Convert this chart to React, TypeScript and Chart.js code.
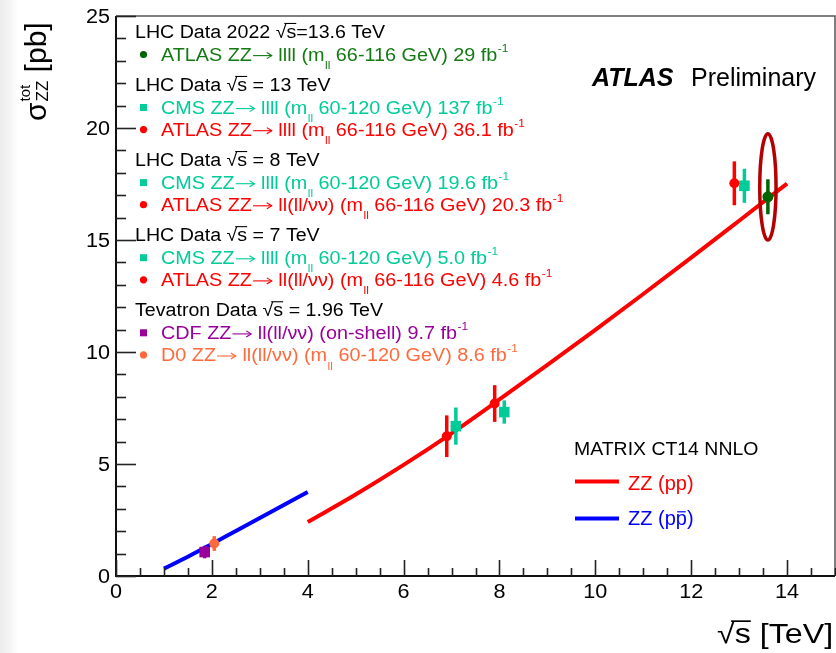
import React, { useEffect, useRef } from 'react';
import { Chart, registerables } from 'chart.js';

Chart.register(...registerables);

// ---------- axis ticks ----------
const xTickValues = [0, 2, 4, 6, 8, 10, 12, 14];
const yTickValues = [0, 5, 10, 15, 20, 25];

// ---------- MATRIX CT14 NNLO predictions ----------
const ppSqrtS = [4, 5, 6, 7, 8, 9, 10, 11, 12, 13, 14];
const ppSigma = [2.41, 3.64, 4.96, 6.37, 7.88, 9.42, 10.99, 12.59, 14.21, 15.86, 17.52];
const ppbarSqrtS = [1, 1.5, 2, 2.5, 3, 3.5, 4];
const ppbarSigma = [0.33, 0.86, 1.43, 2.01, 2.59, 3.17, 3.75];

// ---------- measurements (x shifted for visibility as in the figure) ----------
const atlas2022X = [13.6];
const atlas2022Y = [16.93];
const atlas2022Err = [0.78];

const cmsX = [13.11, 8.1, 7.09];
const cmsY = [17.42, 7.32, 6.69];
const cmsErr = [0.76, 0.52, 0.83];

const atlasX = [12.9, 7.9, 6.9];
const atlasY = [17.53, 7.7, 6.24];
const atlasErr = [0.98, 0.82, 0.93];

const cdfX = [1.85];
const cdfY = [1.07];
const cdfErr = [0.28];

const d0X = [2.05];
const d0Y = [1.45];
const d0Err = [0.33];

// highlight ellipse around the 13.6 TeV point (data units)
const ellipseCenter = [13.6, 17.37];
const ellipseRadii = [0.17, 2.37];

// ---------- colours ----------
const RED = '#ff0000';
const TEAL = '#00cc99';
const GREEN_TXT = '#137a13';
const GREEN_PT = '#006400';
const PURPLE = '#990099';
const ORANGE = '#ff6a3d';
const BLUE = '#0000ff';
const DARKRED = '#b40000';

// ---------- legend text ----------
const legendKinds = ['h', 'c', 'h', 's', 'c', 'h', 's', 'c', 'h', 's', 'c', 'h', 's', 'c'];
const legendColors = ['#000', GREEN_TXT, '#000', TEAL, RED, '#000', TEAL, RED, '#000', TEAL, RED, '#000', PURPLE, ORANGE];
const legendMarkerColors = ['', GREEN_PT, '', TEAL, RED, '', TEAL, RED, '', TEAL, RED, '', PURPLE, ORANGE];
const legendTexts = [
  'LHC Data 2022 #sqrt{s}=13.6 TeV',
  'ATLAS ZZ#arrow{} llll (m_{ll} 66-116 GeV) 29 fb^{-1}',
  'LHC Data #sqrt{s} = 13 TeV',
  'CMS ZZ#arrow{} llll (m_{ll} 60-120 GeV) 137 fb^{-1}',
  'ATLAS ZZ#arrow{} llll (m_{ll} 66-116 GeV) 36.1 fb^{-1}',
  'LHC Data #sqrt{s} = 8 TeV',
  'CMS ZZ#arrow{} llll (m_{ll} 60-120 GeV) 19.6 fb^{-1}',
  'ATLAS ZZ#arrow{} ll(ll/\u03bd\u03bd) (m_{ll} 66-116 GeV) 20.3 fb^{-1}',
  'LHC Data #sqrt{s} = 7 TeV',
  'CMS ZZ#arrow{} llll (m_{ll} 60-120 GeV) 5.0 fb^{-1}',
  'ATLAS ZZ#arrow{} ll(ll/\u03bd\u03bd) (m_{ll} 66-116 GeV) 4.6 fb^{-1}',
  'Tevatron Data #sqrt{s} = 1.96 TeV',
  'CDF ZZ#arrow{} ll(ll/\u03bd\u03bd) (on-shell) 9.7 fb^{-1}',
  'D0 ZZ#arrow{} ll(ll/\u03bd\u03bd) (m_{ll} 60-120 GeV) 8.6 fb^{-1}',
];

const FAMILY = '"Liberation Sans", Arial, Helvetica, sans-serif';

type Tok = { t: string; k: string };

function parseRich(s: string): Tok[] {
  const out: Tok[] = [];
  let buf = '';
  let i = 0;
  while (i < s.length) {
    const rest = s.slice(i);
    const mm = rest.match(/^(#sqrt|#bar|#arrow|_|\^)\{([^}]*)\}/);
    if (mm) {
      if (buf) { out.push({ t: buf, k: 'n' }); buf = ''; }
      out.push({ t: mm[2], k: mm[1] });
      i += mm[0].length;
    } else {
      buf += s[i];
      i++;
    }
  }
  if (buf) out.push({ t: buf, k: 'n' });
  return out;
}

function drawRich(
  ctx: CanvasRenderingContext2D,
  s: string,
  x: number,
  y: number,
  size: number,
  color: string,
  sx = 1,
  style = '',
) {
  const toks = parseRich(s);
  ctx.save();
  ctx.translate(x, y);
  ctx.scale(sx, 1);
  ctx.fillStyle = color;
  ctx.strokeStyle = color;
  ctx.textBaseline = 'alphabetic';
  ctx.textAlign = 'left';
  let cur = 0;
  const f = (sz: number) => `${style}${sz}px ${FAMILY}`;
  for (const tk of toks) {
    if (tk.k === 'n') {
      ctx.font = f(size);
      ctx.fillText(tk.t, cur, 0);
      cur += ctx.measureText(tk.t).width;
    } else if (tk.k === '_') {
      ctx.font = f(size * 0.6);
      ctx.fillText(tk.t, cur + 0.5, size * 0.45);
      cur += ctx.measureText(tk.t).width + 0.5;
    } else if (tk.k === '^') {
      ctx.font = f(size * 0.6);
      ctx.fillText(tk.t, cur + 0.5, -size * 0.5);
      cur += ctx.measureText(tk.t).width + 0.5;
    } else if (tk.k === '#arrow') {
      const len = size * 1.0;
      const ay = -size * 0.3;
      ctx.lineWidth = 1.1;
      ctx.beginPath();
      ctx.moveTo(cur + 1, ay);
      ctx.lineTo(cur + len, ay);
      ctx.stroke();
      ctx.beginPath();
      ctx.moveTo(cur + len - size * 0.25, ay - size * 0.17);
      ctx.lineTo(cur + len, ay);
      ctx.lineTo(cur + len - size * 0.25, ay + size * 0.17);
      ctx.stroke();
      cur += len + 1;
    } else if (tk.k === '#sqrt') {
      ctx.font = f(size);
      const wr = ctx.measureText('\u221a').width;
      ctx.fillText('\u221a', cur, 0);
      const wt = ctx.measureText(tk.t).width;
      ctx.fillText(tk.t, cur + wr, 0);
      ctx.lineWidth = Math.max(1, size * 0.06);
      ctx.beginPath();
      ctx.moveTo(cur + wr * 0.8, -size * 0.78);
      ctx.lineTo(cur + wr + wt, -size * 0.78);
      ctx.stroke();
      cur += wr + wt;
    } else if (tk.k === '#bar') {
      ctx.font = f(size);
      const wt = ctx.measureText(tk.t).width;
      ctx.fillText(tk.t, cur, 0);
      ctx.lineWidth = Math.max(1, size * 0.06);
      ctx.beginPath();
      ctx.moveTo(cur + wt * 0.12, -size * 0.66);
      ctx.lineTo(cur + wt * 0.9, -size * 0.66);
      ctx.stroke();
      cur += wt;
    }
  }
  ctx.restore();
  return cur * sx;
}

const overlayPlugin = {
  id: 'overlay',
  beforeDatasetDraw(chart: any, args: any) {
    const ds = chart.data.datasets[args.index];
    if (!ds.errors) return;
    const ctx: CanvasRenderingContext2D = chart.ctx;
    const xs = chart.scales.x;
    const ys = chart.scales.y;
    ctx.save();
    ctx.strokeStyle = ds.barColor;
    ctx.lineWidth = 3.5;
    ds.data.forEach((p: any, i: number) => {
      const e = ds.errors[i];
      const px = xs.getPixelForValue(p.x);
      ctx.beginPath();
      ctx.moveTo(px, ys.getPixelForValue(p.y - e));
      ctx.lineTo(px, ys.getPixelForValue(p.y + e));
      ctx.stroke();
    });
    ctx.restore();
  },
  afterDraw(chart: any) {
    const ctx: CanvasRenderingContext2D = chart.ctx;
    const xs = chart.scales.x;
    const ys = chart.scales.y;
    const { left, right, top, bottom } = chart.chartArea;

    // highlight ellipse
    ctx.save();
    const ecx = xs.getPixelForValue(ellipseCenter[0]);
    const ecy = ys.getPixelForValue(ellipseCenter[1]);
    const erx = Math.abs(xs.getPixelForValue(ellipseCenter[0] + ellipseRadii[0]) - ecx);
    const ery = Math.abs(ys.getPixelForValue(ellipseCenter[1] + ellipseRadii[1]) - ecy);
    ctx.strokeStyle = DARKRED;
    ctx.lineWidth = 3.5;
    ctx.beginPath();
    ctx.ellipse(ecx, ecy, erx, ery, 0, 0, Math.PI * 2);
    ctx.stroke();
    ctx.restore();

    // frame
    ctx.save();
    ctx.strokeStyle = '#555';
    ctx.lineWidth = 1.5;
    ctx.beginPath();
    ctx.moveTo(left, top);
    ctx.lineTo(right, top);
    ctx.lineTo(right, bottom);
    ctx.stroke();
    ctx.strokeStyle = '#111';
    ctx.lineWidth = 2;
    ctx.beginPath();
    ctx.moveTo(left, top);
    ctx.lineTo(left, bottom);
    ctx.lineTo(right, bottom);
    ctx.stroke();

    // ticks (inside)
    ctx.lineWidth = 1.6;
    ctx.strokeStyle = '#222';
    for (let v = ys.min; v <= ys.max + 1e-9; v += 1) {
      const py = Math.round(ys.getPixelForValue(v)) + 0.5;
      const len = Math.abs(v % 5) < 1e-9 ? 20 : 10;
      ctx.beginPath();
      ctx.moveTo(left, py);
      ctx.lineTo(left + len, py);
      ctx.stroke();
    }
    for (let v = xs.min; v <= xs.max + 1e-9; v += 0.5) {
      const px = Math.round(xs.getPixelForValue(v)) + 0.5;
      const major = Math.abs(v / 2 - Math.round(v / 2)) < 1e-9;
      const len = major ? 16 : 8;
      ctx.beginPath();
      ctx.moveTo(px, bottom);
      ctx.lineTo(px, bottom - len);
      ctx.stroke();
    }

    // tick labels
    ctx.fillStyle = '#000';
    ctx.font = `20px ${FAMILY}`;
    ctx.textBaseline = 'middle';
    for (const v of yTickValues) {
      const py = ys.getPixelForValue(v);
      ctx.save();
      ctx.translate(left - 6, py + 1);
      ctx.scale(1.08, 1);
      ctx.textAlign = 'right';
      ctx.fillText(String(v), 0, 0);
      ctx.restore();
    }
    for (const v of xTickValues) {
      const px = xs.getPixelForValue(v);
      ctx.save();
      ctx.translate(px, bottom + 16);
      ctx.scale(1.08, 1);
      ctx.textAlign = 'center';
      ctx.fillText(String(v), 0, 0);
      ctx.restore();
    }
    ctx.restore();

    // axis titles
    drawRich(ctx, '#sqrt{s} [TeV]', 717, 643, 28, '#000', 1.15);

    ctx.save();
    ctx.translate(46, 121);
    ctx.rotate(-Math.PI / 2);
    ctx.fillStyle = '#000';
    ctx.textBaseline = 'alphabetic';
    ctx.font = `30px ${FAMILY}`;
    ctx.fillText('\u03c3', 0, 0);
    let cx = ctx.measureText('\u03c3').width + 1;
    ctx.font = `15px ${FAMILY}`;
    ctx.fillText('tot', cx, -16);
    const wTot = ctx.measureText('tot').width;
    ctx.font = `17px ${FAMILY}`;
    ctx.fillText('ZZ', cx, 2);
    const wZZ = ctx.measureText('ZZ').width;
    cx += Math.max(wTot, wZZ);
    ctx.font = `30px ${FAMILY}`;
    ctx.fillText(' [pb]', cx, 0);
    ctx.restore();

    // ATLAS Preliminary
    ctx.save();
    ctx.fillStyle = '#000';
    ctx.textBaseline = 'alphabetic';
    ctx.font = `italic bold 25px ${FAMILY}`;
    ctx.fillText('ATLAS', 592, 86);
    ctx.font = `25px ${FAMILY}`;
    ctx.fillText('Preliminary', 691, 86);
    ctx.restore();

    // theory legend
    drawRich(ctx, 'MATRIX CT14 NNLO', 574, 455, 18, '#000', 1.08);
    ctx.save();
    ctx.lineWidth = 4;
    ctx.strokeStyle = RED;
    ctx.beginPath();
    ctx.moveTo(575, 481.5);
    ctx.lineTo(619, 481.5);
    ctx.stroke();
    ctx.strokeStyle = BLUE;
    ctx.beginPath();
    ctx.moveTo(575, 518.5);
    ctx.lineTo(619, 518.5);
    ctx.stroke();
    ctx.restore();
    drawRich(ctx, 'ZZ (pp)', 628, 490, 20, RED, 1);
    drawRich(ctx, 'ZZ (p#bar{p})', 628, 525, 20, BLUE, 1);

    // data legend
    let y = 37.5;
    for (let i = 0; i < legendTexts.length; i++) {
      if (i > 0) {
        const k = legendKinds[i];
        const pk = legendKinds[i - 1];
        if (k === 'h') y += 29.5;
        else if (pk === 'h') y += 23.5;
        else y += 22.1;
      }
      const kind = legendKinds[i];
      if (kind === 'h') {
        drawRich(ctx, legendTexts[i], 135, y, 18, legendColors[i], 1.09);
      } else {
        ctx.save();
        ctx.fillStyle = legendMarkerColors[i];
        const my = y - 6.5;
        if (kind === 'c') {
          ctx.beginPath();
          ctx.arc(143.5, my, 3.6, 0, Math.PI * 2);
          ctx.fill();
        } else {
          ctx.fillRect(143.5 - 3.5, my - 3.5, 7, 7);
        }
        ctx.restore();
        drawRich(ctx, legendTexts[i], 161, y, 18, legendColors[i], 1.1);
      }
    }
  },
};

function pts(xs: number[], ys: number[]) {
  return xs.map((x, i) => ({ x, y: ys[i] }));
}

export default function App() {
  const canvasRef = useRef<HTMLCanvasElement | null>(null);

  useEffect(() => {
    if (!canvasRef.current) return;
    const chart = new Chart(canvasRef.current, {
      type: 'scatter',
      data: {
        datasets: [
          {
            label: 'ZZ (pp)',
            data: pts(ppSqrtS, ppSigma),
            showLine: true,
            borderColor: RED,
            borderWidth: 4,
            pointRadius: 0,
            cubicInterpolationMode: 'monotone',
            order: 5,
          } as any,
          {
            label: 'ZZ (ppbar)',
            data: pts(ppbarSqrtS, ppbarSigma),
            showLine: true,
            borderColor: BLUE,
            borderWidth: 4,
            pointRadius: 0,
            cubicInterpolationMode: 'monotone',
            order: 5,
          } as any,
          {
            label: 'CDF',
            data: pts(cdfX, cdfY),
            pointStyle: 'rect',
            pointRadius: 7.5,
            backgroundColor: PURPLE,
            borderWidth: 0,
            errors: cdfErr,
            barColor: PURPLE,
            order: 2,
          } as any,
          {
            label: 'D0',
            data: pts(d0X, d0Y),
            pointStyle: 'circle',
            pointRadius: 5,
            backgroundColor: ORANGE,
            borderWidth: 0,
            errors: d0Err,
            barColor: ORANGE,
            order: 2,
          } as any,
          {
            label: 'CMS',
            data: pts(cmsX, cmsY),
            pointStyle: 'rect',
            pointRadius: 7.5,
            backgroundColor: TEAL,
            borderWidth: 0,
            errors: cmsErr,
            barColor: TEAL,
            order: 2,
          } as any,
          {
            label: 'ATLAS',
            data: pts(atlasX, atlasY),
            pointStyle: 'circle',
            pointRadius: 5,
            backgroundColor: RED,
            borderWidth: 0,
            errors: atlasErr,
            barColor: RED,
            order: 1,
          } as any,
          {
            label: 'ATLAS 2022',
            data: pts(atlas2022X, atlas2022Y),
            pointStyle: 'circle',
            pointRadius: 5.5,
            backgroundColor: GREEN_PT,
            borderWidth: 0,
            errors: atlas2022Err,
            barColor: GREEN_PT,
            order: 1,
          } as any,
        ],
      },
      options: {
        animation: false,
        responsive: true,
        maintainAspectRatio: false,
        events: [],
        layout: { autoPadding: false, padding: { top: 16, right: 1, left: 0, bottom: 0 } },
        plugins: {
          legend: { display: false },
          tooltip: { enabled: false },
        },
        scales: {
          x: {
            type: 'linear',
            min: 0,
            max: 15,
            ticks: { display: false },
            grid: { display: false, drawTicks: false },
            border: { display: false },
            afterFit: (s: any) => {
              s.height = 77;
              s.paddingLeft = 0;
              s.paddingRight = 0;
            },
          },
          y: {
            type: 'linear',
            min: 0,
            max: 25,
            ticks: { display: false },
            grid: { display: false, drawTicks: false },
            border: { display: false },
            afterFit: (s: any) => {
              s.width = 116;
              s.paddingTop = 0;
              s.paddingBottom = 0;
            },
          },
        },
      } as any,
      plugins: [overlayPlugin as any],
    });
    return () => chart.destroy();
  }, []);

  return (
    <div
      style={{
        position: 'fixed',
        left: 0,
        top: 0,
        width: 836,
        height: 653,
        background: 'linear-gradient(to right, #ececec 0px, #f5f5f5 10px, #ffffff 18px)',
      }}
    >
      <canvas ref={canvasRef} style={{ width: '100%', height: '100%' }} />
    </div>
  );
}
